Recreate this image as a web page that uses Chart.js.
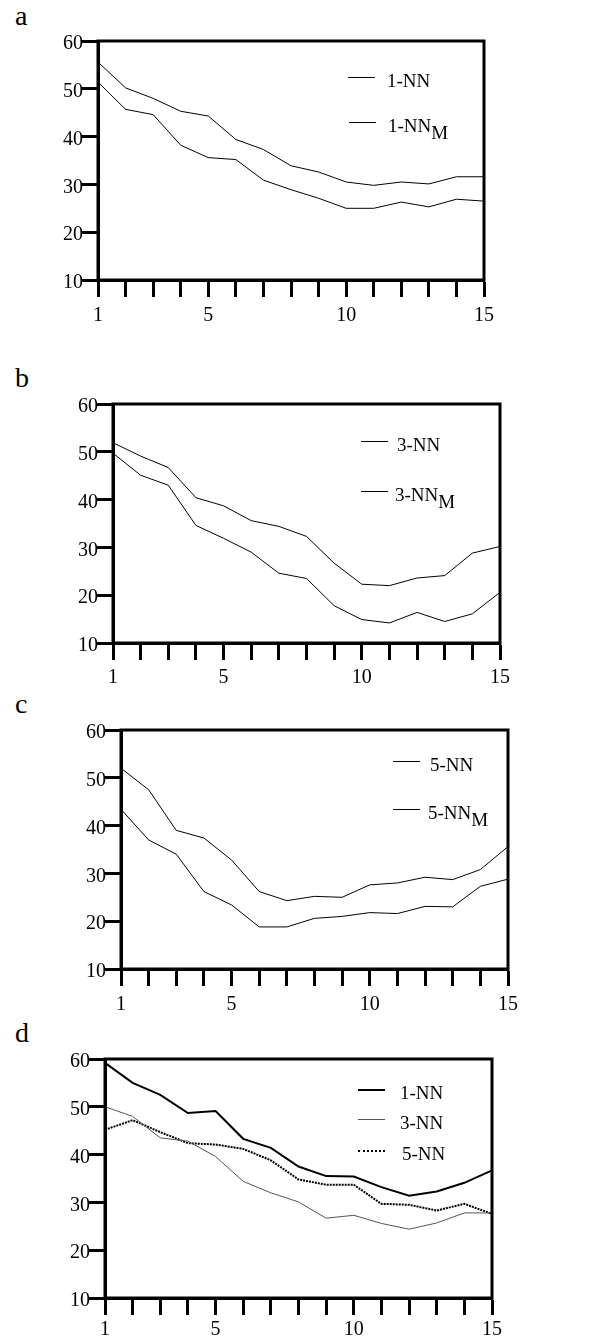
<!DOCTYPE html>
<html>
<head>
<meta charset="utf-8">
<script src="https://cdn.jsdelivr.net/npm/chart.js@4"></script>
<style>
  html, body { margin: 0; padding: 0; background: #fff; }
  body { width: 604px; height: 1338px; position: relative; overflow: hidden; font-family: "Liberation Serif", serif; color: #000; }
  canvas { position: absolute; left: 0; }
  .letter { position: absolute; left: 15px; font-size: 28px; line-height: 28px; }
  .leg { position: absolute; font-size: 19px; line-height: 20px; white-space: nowrap; }
  .leg sub { font-size: 19px; vertical-align: -7px; line-height: 0; }
  .sample { position: absolute; width: 27px; height: 0; }
</style>
</head>
<body>

<div class="letter" style="top:2px">a</div>
<div class="letter" style="top:364px">b</div>
<div class="letter" style="top:690px">c</div>
<div class="letter" style="top:1019px">d</div>

<canvas id="chartA" width="604" height="332" style="top:0px"></canvas>
<canvas id="chartB" width="604" height="332" style="top:363px"></canvas>
<canvas id="chartC" width="604" height="332" style="top:689px"></canvas>
<canvas id="chartD" width="604" height="332" style="top:1018px"></canvas>

<script>
// x steps and tick labels
const steps = [1, 2, 3, 4, 5, 6, 7, 8, 9, 10, 11, 12, 13, 14, 15];
const xTickLabels = ['1', '5', '10', '15'];
const yTicks = [10, 20, 30, 40, 50, 60];

// panel a
const nn1 =  [55.6, 50.2, 48.0, 45.3, 44.3, 39.4, 37.3, 33.9, 32.6, 30.5, 29.8, 30.5, 30.1, 31.6, 31.6];
const nn1M = [51.4, 45.7, 44.6, 38.2, 35.6, 35.2, 30.9, 28.9, 27.1, 25.0, 25.0, 26.3, 25.3, 26.9, 26.5];
// panel b
const nn3 =  [51.9, 49.1, 46.7, 40.4, 38.7, 35.6, 34.4, 32.3, 26.7, 22.3, 22.0, 23.6, 24.1, 28.8, 30.2];
const nn3M = [49.7, 45.1, 43.0, 34.6, 31.9, 29.0, 24.6, 23.5, 17.8, 14.9, 14.2, 16.4, 14.5, 16.1, 20.6];
// panel c
const nn5 =  [52.0, 47.5, 39.0, 37.4, 32.8, 26.2, 24.3, 25.2, 25.0, 27.6, 28.0, 29.2, 28.7, 30.8, 35.6];
const nn5M = [43.4, 37.0, 34.0, 26.2, 23.4, 18.8, 18.8, 20.6, 21.0, 21.8, 21.6, 23.1, 23.0, 27.3, 28.8];
// panel d
const dNN1 = [59.2, 55.0, 52.5, 48.7, 49.1, 43.3, 41.4, 37.5, 35.5, 35.4, 33.2, 31.4, 32.3, 34.1, 36.7];
const dNN3 = [50.0, 48.0, 43.5, 42.8, 39.6, 34.4, 32.0, 30.1, 26.7, 27.3, 25.6, 24.4, 25.7, 27.8, 27.8];
const dNN5 = [45.2, 47.2, 44.7, 42.4, 42.1, 41.2, 38.8, 34.8, 33.7, 33.7, 29.7, 29.5, 28.3, 29.7, 27.6];

const FONT = "'Liberation Serif', 'Times New Roman', serif";

// draws the box round the plot
const framePlugin = {
  id: 'frame',
  afterDatasetsDraw(chart) {
    const a = chart.chartArea;
    const ctx = chart.ctx;
    ctx.save();
    ctx.strokeStyle = '#000';
    ctx.lineWidth = 3;
    ctx.strokeRect(a.left, a.top, a.right - a.left, a.bottom - a.top);
    ctx.restore();
  }
};

function makeChart(id, left, right, sets, xPad) {
  const ctx = document.getElementById(id);
  return new Chart(ctx, {
    type: 'line',
    data: {
      labels: steps.map(String),
      datasets: sets.map(s => ({
        label: s.label,
        data: s.data,
        borderColor: s.color || '#000',
        borderWidth: s.width || 1,
        borderDash: s.dash || [],
        pointRadius: 0,
        tension: 0,
        fill: false
      }))
    },
    options: {
      responsive: false,
      animation: false,
      devicePixelRatio: 1,
      layout: { padding: { left: 0, top: 41, right: 604 - right, bottom: 0 } },
      plugins: { legend: { display: false }, tooltip: { enabled: false } },
      scales: {
        x: {
          type: 'category',
          offset: false,
          afterFit: s => { s.height = 52; },
          grid: { drawOnChartArea: false, drawTicks: true, tickLength: 17, tickWidth: 3, tickColor: '#000' },
          border: { display: true, color: '#000', width: 3 },
          ticks: {
            autoSkip: false,
            maxRotation: 0,
            padding: xPad,
            color: '#000',
            font: { family: FONT, size: 20 },
            callback: function (v) {
              const l = this.getLabelForValue(v);
              return xTickLabels.includes(l) ? l : '';
            }
          }
        },
        y: {
          min: 10,
          max: 60,
          afterFit: s => { s.width = left; },
          afterBuildTicks: s => { s.ticks = yTicks.map(v => ({ value: v })); },
          grid: { drawOnChartArea: false, drawTicks: true, tickLength: 17, tickWidth: 3, tickColor: '#000' },
          border: { display: true, color: '#000', width: 3 },
          ticks: {
            padding: -2,
            labelOffset: 3,
            color: '#000',
            font: { family: FONT, size: 20 }
          }
        }
      }
    },
    plugins: [framePlugin]
  });
}

makeChart('chartA', 98, 484, [
  { label: '1-NN', data: nn1 },
  { label: '1-NNM', data: nn1M }
], 7);
makeChart('chartB', 113, 500, [
  { label: '3-NN', data: nn3 },
  { label: '3-NNM', data: nn3M }
], 6);
makeChart('chartC', 121, 508, [
  { label: '5-NN', data: nn5 },
  { label: '5-NNM', data: nn5M }
], 7);
makeChart('chartD', 105, 492, [
  { label: '1-NN', data: dNN1, width: 2 },
  { label: '3-NN', data: dNN3, width: 1, color: '#555' },
  { label: '5-NN', data: dNN5, width: 2, dash: [2, 1] }
], 3);

// legends (html so the subscript is real text)
function legend(x, lineX, y, html, sampleStyle) {
  const s = document.createElement('div');
  s.className = 'sample';
  s.style.left = lineX + 'px';
  s.style.top = y + 'px';
  s.style.borderTop = sampleStyle || '1px solid #000';
  document.body.appendChild(s);
  const t = document.createElement('div');
  t.className = 'leg';
  t.style.left = x + 'px';
  t.style.top = (y - 6) + 'px';
  t.innerHTML = html;
  document.body.appendChild(t);
}
legend(387, 348, 77, '1-NN');
legend(388, 349, 122, '1-NN<sub>M</sub>');
legend(397, 361, 441, '3-NN');
legend(395, 361, 491, '3-NN<sub>M</sub>');
legend(430, 393, 761, '5-NN');
legend(428, 393, 809, '5-NN<sub>M</sub>');
legend(400, 358, 1089, '1-NN', '2px solid #000');
legend(400, 358, 1119, '3-NN', '1px solid #555');
legend(402, 358, 1150, '5-NN', '2px dotted #000');
</script>
</body>
</html>
